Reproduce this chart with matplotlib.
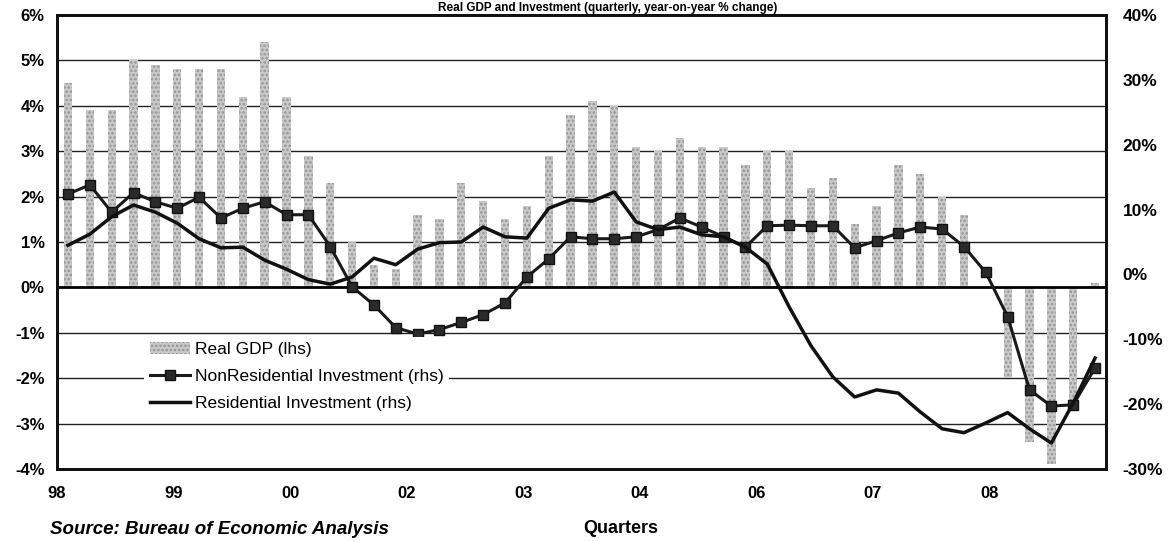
import matplotlib
matplotlib.use("Agg")
import numpy as np
import matplotlib.pyplot as plt

plt.rcParams["font.family"] = ["Liberation Sans", "DejaVu Sans"]
plt.rcParams["hatch.linewidth"] = 1.2

# ────────────────────────────────
# Data (quarterly, 98Q1 .. 09Q4), y-o-y % change
# ────────────────────────────────
quarters = [f"{y}Q{q}" for y in ["98", "99", "00", "01", "02", "03",
                                   "04", "05", "06", "07", "08", "09"]
            for q in range(1, 5)]

real_gdp = [4.5, 3.9, 3.9, 5.0, 4.9, 4.8, 4.8, 4.8, 4.2, 5.4, 4.2, 2.9,
            2.3, 1.0, 0.5, 0.4, 1.6, 1.5, 2.3, 1.9, 1.5, 1.8, 2.9, 3.8,
            4.1, 4.0, 3.1, 3.0, 3.3, 3.1, 3.1, 2.7, 3.0, 3.0, 2.2, 2.4,
            1.4, 1.8, 2.7, 2.5, 2.0, 1.6, 0.0, -2.0, -3.4, -3.9, -2.6, 0.1]

nonres_inv = [12.4, 13.8, 9.6, 12.6, 11.2, 10.2, 11.9, 8.7, 10.2, 11.2, 9.2, 9.2,
              4.3, -1.9, -4.7, -8.2, -9.2, -8.5, -7.4, -6.2, -4.4, -0.4, 2.4, 5.8,
              5.5, 5.5, 5.8, 6.9, 8.7, 7.3, 5.8, 4.2, 7.5, 7.6, 7.5, 7.5,
              4.1, 5.2, 6.4, 7.3, 7.0, 4.3, 0.3, -6.5, -17.8, -20.3, -20.1, -14.4]

res_inv = [4.5, 6.2, 8.9, 10.7, 9.6, 7.9, 5.5, 4.1, 4.2, 2.2, 0.8, -0.8,
           -1.5, -0.4, 2.5, 1.5, 3.9, 4.9, 5.0, 7.3, 5.8, 5.6, 10.2, 11.5,
           11.3, 12.7, 8.1, 6.9, 7.3, 6.1, 5.8, 4.2, 1.6, -5.0, -11.0, -15.8,
           -18.9, -17.8, -18.3, -21.2, -23.8, -24.4, -22.9, -21.3, -23.8, -26.0, -19.8, -12.9]

xtick_labels = ["98", "99", "00", "02", "03", "04", "06", "07", "08"]
lhs_ticks = [-4, -3, -2, -1, 0, 1, 2, 3, 4, 5, 6]
rhs_ticks = [-30, -20, -10, 0, 10, 20, 30, 40]

# ────────────────────────────────
# Plot
# ────────────────────────────────
fig = plt.figure(figsize=(11.69, 5.41), dpi=100)
ax = fig.add_axes([0.0488, 0.1331, 0.8973, 0.8392])
ax2 = ax.twinx()

x = np.arange(len(quarters))
n = len(quarters)

for v in lhs_ticks[1:-1]:
    if v != 0:
        ax.axhline(v, color="#222222", lw=1.0, zorder=0)

bars = ax.bar(x, real_gdp, width=0.38, color="#c9c9c9", edgecolor="#959595",
              linewidth=0, hatch="....", zorder=2, label="Real GDP (lhs)")
ax.axhline(0, color="black", lw=2.0, zorder=3)

ax.set_xlim(-0.5, n - 0.5)
ax.set_ylim(-4, 6)
ax.set_yticks(lhs_ticks)
ax.set_yticklabels([f"{v}%" for v in lhs_ticks], fontsize=12, fontweight="bold")
ax.set_xticks([-0.5 + k * n / len(xtick_labels) for k in range(len(xtick_labels))])
ax.set_xticklabels(xtick_labels, fontsize=12, fontweight="bold")
ax.tick_params(axis="x", length=0, pad=12)
ax.tick_params(axis="y", length=0, pad=9)

l1, = ax2.plot(x, nonres_inv, color="#1a1a1a", lw=2.2, marker="s", markersize=7,
               markerfacecolor="#2a2a2a", markeredgecolor="#111111",
               label="NonResidential Investment (rhs)", zorder=4)
l2, = ax2.plot(x, res_inv, color="#111111", lw=2.5, solid_joinstyle="round",
               label="Residential Investment (rhs)", zorder=4)
ax2.set_ylim(-30, 40)
ax2.set_yticks(rhs_ticks)
ax2.set_yticklabels([f"{v}%" for v in rhs_ticks], fontsize=12.5, fontweight="bold")
ax2.tick_params(axis="y", length=0, pad=12)

for a in (ax, ax2):
    for s in a.spines.values():
        s.set_linewidth(2.0)
        s.set_color("#111111")

leg = ax2.legend(handles=[bars, l1, l2], loc="upper left",
                 bbox_to_anchor=(0.075, 0.31), frameon=True, fontsize=12.5,
                 handlelength=2.3, handletextpad=0.3, labelspacing=0.68,
                 borderpad=0.3)
leg.get_frame().set_facecolor("white")
leg.get_frame().set_edgecolor("none")
leg.get_frame().set_alpha(1.0)

fig.text(0.531, 0.024, "Quarters", ha="center", va="center",
         fontsize=13, fontweight="bold")
fig.text(0.043, 0.022, "Source: Bureau of Economic Analysis", ha="left",
         va="center", fontsize=13.5, fontweight="bold", style="italic")
fig.text(0.52, 0.997, "Real GDP and Investment (quarterly, year-on-year % change)",
         ha="center", va="top", fontsize=8.5, fontweight="bold")

fig.savefig("out.png", dpi=100)
